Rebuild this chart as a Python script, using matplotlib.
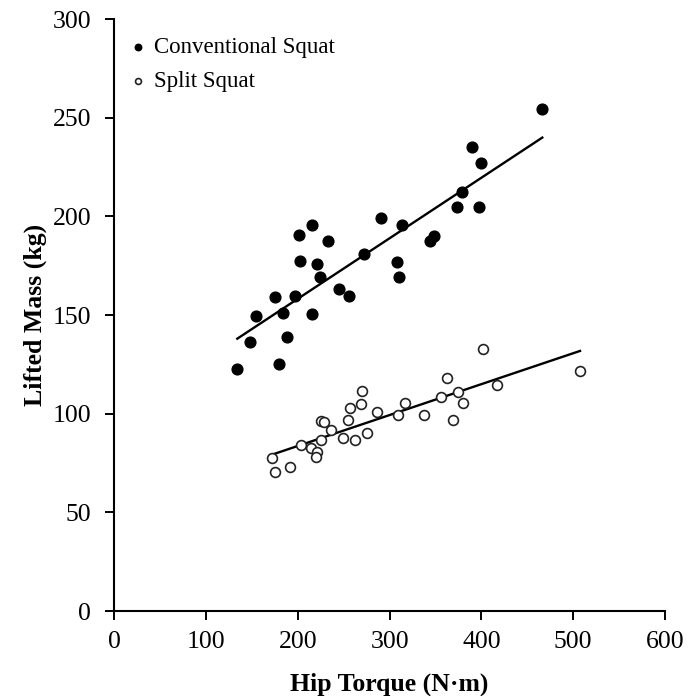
import numpy as np
import matplotlib
matplotlib.use("Agg")
import matplotlib.pyplot as plt

# Conventional squat: hip torque (N·m) vs lifted mass (kg)
conv_torque = [134.0, 147.9, 154.4, 175.4, 179.8, 183.5, 188.2, 197.2, 201.2, 202.3,
               215.7, 215.7, 220.5, 224.5, 233.2, 244.5, 255.4, 272.4, 290.3, 307.7,
               310.2, 313.8, 344.0, 348.3, 373.1, 379.2, 389.4, 397.7, 399.2, 466.3]
conv_mass = [122.7, 136.2, 149.5, 159.0, 125.2, 151.2, 138.7, 159.8, 190.6, 177.4,
             195.6, 150.4, 175.7, 169.1, 187.5, 163.2, 159.8, 180.8, 199.0, 177.0,
             169.1, 195.6, 187.5, 190.2, 204.9, 212.5, 235.3, 204.9, 227.2, 254.3]

# Split squat
split_torque = [172.2, 175.1, 191.4, 203.4, 213.8, 220.5, 219.4, 225.2, 225.2, 229.0,
                236.4, 249.5, 255.0, 256.3, 262.3, 268.5, 269.6, 275.7, 285.9, 309.4,
                316.7, 337.4, 355.6, 362.2, 368.7, 374.8, 380.3, 402.1, 416.6, 507.4]
split_mass = [77.3, 70.2, 73.1, 84.1, 82.6, 80.4, 78.3, 86.5, 96.3, 96.0,
              91.9, 87.5, 96.8, 102.9, 86.7, 104.9, 111.7, 90.1, 101.0, 99.3,
              105.3, 99.3, 108.6, 118.2, 96.8, 111.1, 105.6, 132.6, 114.5, 121.8]

x_ticks = [0, 100, 200, 300, 400, 500, 600]
y_ticks = [0, 50, 100, 150, 200, 250, 300]

plt.rcParams["font.family"] = ["Liberation Serif", "DejaVu Serif"]

fig = plt.figure(figsize=(6.99, 6.96), dpi=100)
ax = fig.add_axes([0.1635, 0.1221, 0.7879, 0.8506])


def fit_line(x, y):
    x = np.asarray(x)
    k, b = np.polyfit(x, np.asarray(y), 1)
    xs = np.array([x.min(), x.max()])
    return xs, k * xs + b


ax.scatter(conv_torque, conv_mass, s=60, color="black", zorder=3,
           label="Conventional Squat")
ax.scatter(split_torque, split_mass, s=50, facecolors="white",
           edgecolors="#222222", linewidths=1.2, zorder=3, label="Split Squat")

xs, ys = fit_line(conv_torque, conv_mass)
ax.plot(xs, ys, color="black", lw=1.7, zorder=2)
xs, ys = fit_line(split_torque, split_mass)
ax.plot(xs, ys, color="black", lw=1.7, zorder=2)

ax.set_xlim(0, 600)
ax.set_ylim(0, 300)
ax.set_xticks(x_ticks)
ax.set_yticks(y_ticks)
ax.tick_params(labelsize=18.5, length=6.5, width=1.4, direction="out")
ax.tick_params(axis="x", pad=8)
ax.tick_params(axis="y", pad=10)
for side in ("top", "right"):
    ax.spines[side].set_visible(False)
for side in ("left", "bottom"):
    ax.spines[side].set_linewidth(1.5)

ax.set_xlabel("Hip Torque (N·m)", fontsize=18.5, fontweight="bold", labelpad=14)
ax.set_ylabel("Lifted Mass (kg)", fontsize=18.5, fontweight="bold", labelpad=4)

ax.legend(loc="upper left", bbox_to_anchor=(0.005, 0.985), frameon=False,
          fontsize=16.5, markerscale=0.6, handletextpad=0.2, labelspacing=0.55,
          borderaxespad=0.0, handlelength=1.0)

fig.savefig("out.png", dpi=100)
